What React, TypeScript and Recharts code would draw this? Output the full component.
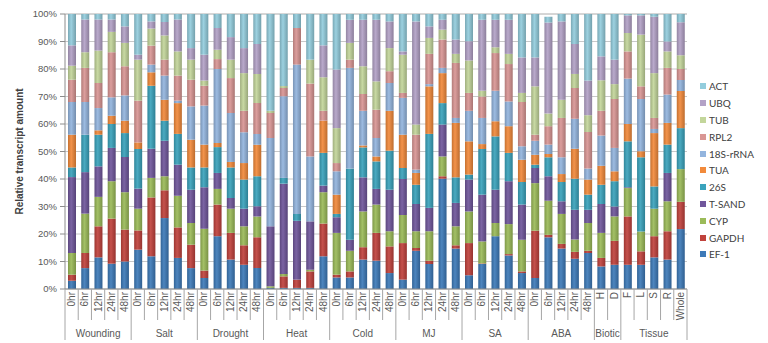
import React from 'react';
import { BarChart, Bar, XAxis, YAxis, CartesianGrid, Legend } from 'recharts';

const categories = [
  '0hr', '6hr', '12hr', '24hr', '48hr',
  '0hr', '6hr', '12hr', '24hr', '48hr',
  '0hr', '6hr', '12hr', '24hr', '48hr',
  '0hr', '6hr', '12hr', '24hr', '48hr',
  '0hr', '6hr', '12hr', '24hr', '48hr',
  '0hr', '6hr', '12hr', '24hr', '48hr',
  '0hr', '6hr', '12hr', '24hr', '48hr',
  '0hr', '6hr', '12hr', '24hr', '48hr',
  'H', 'D',
  'F', 'L', 'S', 'R', 'Whole',
];
const groupNames = ['Wounding', 'Salt', 'Drought', 'Heat', 'Cold', 'MJ', 'SA', 'ABA', 'Biotic', 'Tissue'];
const groupSizes = [5, 5, 5, 5, 5, 5, 5, 5, 2, 5];

const EF1 = [3.0, 7.6, 11.5, 9.2, 10.0, 14.3, 11.9, 25.8, 11.3, 7.6, 4.0, 19.2, 10.7, 8.8, 7.6, 0.4, 0.4, 0.4, 0.4, 11.9, 4.2, 4.2, 10.7, 10.3, 5.8, 3.4, 13.9, 9.1, 40.1, 14.7, 5.0, 9.1, 19.2, 12.2, 5.8, 4.0, 18.8, 14.7, 11.0, 13.1, 8.2, 8.8, 8.8, 8.8, 11.5, 10.7, 21.8];
const GAPDH = [2.2, 5.5, 11.3, 16.4, 11.6, 7.0, 21.4, 10.1, 11.1, 8.5, 2.7, 11.5, 9.7, 7.1, 11.2, 0, 4.2, 3.0, 6.0, 11.9, 1.0, 2.2, 4.5, 10.1, 9.7, 13.3, 1.0, 1.2, 0.9, 1.2, 11.7, 0.2, 0, 0.5, 0.6, 17.2, 0.9, 1.7, 2.5, 0.8, 3.1, 8.7, 17.6, 4.9, 7.7, 10.3, 9.9];
const CYP = [7.9, 14.3, 10.7, 13.6, 13.6, 7.9, 7.1, 5.1, 11.5, 7.9, 15.2, 5.7, 8.8, 6.9, 7.6, 0.6, 0.9, 0, 0.6, 11.4, 15.2, 7.5, 13.0, 10.3, 5.5, 10.2, 6.1, 10.7, 7.2, 6.9, 11.5, 8.0, 4.8, 10.9, 11.5, 17.3, 12.4, 10.9, 4.5, 10.1, 9.1, 8.9, 10.3, 7.2, 10.0, 10.9, 11.9];
const TSAND = [27.6, 15.1, 11.1, 12.1, 12.8, 7.3, 10.6, 12.9, 11.3, 12.1, 15.1, 5.8, 3.9, 6.4, 3.7, 21.8, 32.8, 21.4, 17.6, 2.4, 5.7, 4.0, 12.4, 5.7, 15.1, 13.1, 9.9, 8.5, 11.6, 8.5, 11.6, 17.0, 12.1, 15.6, 12.8, 5.5, 8.9, 4.6, 10.8, 4.8, 10.5, 3.6, 0.3, 0, 0, 10.3, 0];
const S26 = [3.5, 13.6, 11.5, 8.7, 8.7, 14.4, 22.9, 7.3, 11.2, 8.1, 7.2, 9.4, 11.1, 10.6, 10.9, 0, 2.1, 2.5, 0, 11.9, 1.2, 25.9, 10.9, 10.0, 14.2, 4.0, 7.0, 26.9, 7.8, 9.3, 1.8, 16.6, 19.4, 10.3, 8.2, 1.2, 6.9, 7.0, 11.3, 5.5, 7.0, 9.2, 16.7, 27.0, 8.1, 10.3, 14.9];
const TUA = [11.9, 0, 1.6, 3.0, 4.5, 2.4, 4.9, 7.6, 11.2, 10.1, 8.3, 1.5, 2.0, 6.0, 11.5, 0, 0, 0, 0, 11.7, 7.0, 0, 0.7, 1.8, 14.5, 12.1, 4.3, 17.3, 10.9, 19.8, 12.1, 1.8, 5.5, 9.7, 8.1, 3.6, 1.2, 2.9, 10.9, 5.5, 6.9, 3.6, 6.3, 2.2, 19.4, 7.9, 13.5];
const R18S = [11.9, 11.9, 8.1, 6.7, 9.2, 0, 2.8, 8.8, 0.9, 12.1, 14.2, 26.9, 17.8, 11.2, 3.9, 32.1, 29.7, 54.3, 23.6, 0, 8.5, 36.6, 12.6, 6.7, 10.1, 13.4, 1.2, 0.8, 1.9, 1.8, 11.1, 9.5, 11.1, 9.0, 4.9, 5.1, 3.4, 6.1, 10.9, 4.0, 11.0, 8.5, 16.5, 19.0, 1.5, 10.3, 4.0];
const RPL2 = [8.1, 12.4, 9.1, 16.4, 10.6, 15.2, 6.9, 5.8, 9.1, 9.7, 7.2, 3.6, 12.7, 7.8, 11.2, 9.1, 3.0, 13.3, 26.5, 3.6, 3.0, 3.0, 6.1, 10.3, 4.3, 1.8, 12.7, 11.0, 10.3, 20.0, 6.5, 7.8, 13.7, 13.6, 16.1, 2.2, 6.7, 14.3, 11.2, 13.3, 9.0, 17.8, 9.9, 4.6, 4.0, 9.7, 4.0];
const TUB = [5.1, 5.7, 11.8, 7.4, 8.5, 14.9, 6.2, 8.8, 8.8, 7.3, 1.9, 3.4, 6.7, 13.7, 10.6, 0.8, 0.7, 0, 8.7, 12.2, 12.7, 6.1, 10.1, 10.3, 8.4, 13.9, 3.7, 5.8, 3.6, 3.3, 11.8, 2.1, 2.1, 3.7, 3.3, 17.6, 4.6, 6.6, 5.1, 6.1, 11.1, 5.4, 6.7, 18.8, 16.3, 6.0, 5.0];
const UBQ = [7.4, 11.9, 11.3, 4.5, 6.0, 1.8, 2.6, 4.9, 11.6, 4.2, 9.4, 7.9, 8.2, 9.1, 10.9, 0, 0, 0, 0, 11.6, 21.3, 8.4, 16.9, 22.4, 9.7, 1.2, 37.5, 4.2, 3.6, 5.2, 7.0, 25.8, 10.0, 12.4, 12.9, 10.5, 33.1, 28.5, 10.9, 12.6, 8.7, 8.9, 6.4, 7.0, 20.5, 3.6, 12.0];
const ACT = [11.4, 2.0, 2.0, 2.0, 4.5, 14.8, 2.7, 2.9, 2.0, 12.4, 14.8, 5.1, 8.4, 12.4, 10.9, 35.2, 26.2, 5.1, 16.6, 11.4, 20.2, 2.1, 2.1, 2.1, 2.7, 13.6, 2.7, 4.5, 2.1, 9.3, 9.9, 2.1, 2.1, 2.1, 15.8, 15.8, 2.1, 2.7, 10.9, 24.2, 15.4, 16.6, 0.5, 0.5, 1.0, 10.0, 3.0];

const series = [
  { key: 'EF1', name: 'EF-1', values: EF1, color: '#3D7AB8' },
  { key: 'GAPDH', name: 'GAPDH', values: GAPDH, color: '#C0423C' },
  { key: 'CYP', name: 'CYP', values: CYP, color: '#9BBB59' },
  { key: 'TSAND', name: 'T-SAND', values: TSAND, color: '#70569B' },
  { key: 'S26', name: '26S', values: S26, color: '#3AA3BC' },
  { key: 'TUA', name: 'TUA', values: TUA, color: '#F28A3B' },
  { key: 'R18S', name: '18S-rRNA', values: R18S, color: '#93B5DE' },
  { key: 'RPL2', name: 'RPL2', values: RPL2, color: '#D99694' },
  { key: 'TUB', name: 'TUB', values: TUB, color: '#C3D69B' },
  { key: 'UBQ', name: 'UBQ', values: UBQ, color: '#B3A2C7' },
  { key: 'ACT', name: 'ACT', values: ACT, color: '#93CDDD' },
];

const data = categories.map((c, i) => {
  const row: Record<string, any> = { label: c, idx: i };
  series.forEach((s) => { row[s.key] = s.values[i]; });
  return row;
});

const W = 768;
const H = 343;
const Y_AXIS_W = 65;
const X_AXIS_H = 54;
const MARGIN = { top: 14, right: 81, bottom: 0, left: 0 };
const PLOT_LEFT = MARGIN.left + Y_AXIS_W;
const PLOT_RIGHT = W - MARGIN.right;
const AXIS_Y = H - MARGIN.bottom - X_AXIS_H;
const BAND = (PLOT_RIGHT - PLOT_LEFT) / categories.length;

const groupStarts: number[] = [];
groupSizes.reduce((acc, n) => { groupStarts.push(acc); return acc + n; }, 0);

const FONT = '"Liberation Sans", Arial, sans-serif';
const AXIS_COLOR = '#8C8C8C';

function shade(hex: string, f: number) {
  const n = parseInt(hex.slice(1), 16);
  let r = (n >> 16) & 255, g = (n >> 8) & 255, b = n & 255;
  if (f < 0) { r = r * (1 + f); g = g * (1 + f); b = b * (1 + f); }
  else { r = r + (255 - r) * f; g = g + (255 - g) * f; b = b + (255 - b) * f; }
  const h = (v: number) => Math.round(v).toString(16).padStart(2, '0');
  return '#' + h(r) + h(g) + h(b);
}

function XTick(props: any) {
  const { x, payload } = props;
  const i: number = props.index ?? payload.index;
  const left = x - BAND / 2;
  const g = groupStarts.indexOf(i);
  const isStart = g >= 0;
  const els: any[] = [];
  els.push(<line key="l" x1={left} x2={left} y1={AXIS_Y} y2={isStart ? 340 : 320} stroke="#A6A6A6" strokeWidth={1} />);
  if (i === categories.length - 1) {
    els.push(<line key="r" x1={left + BAND} x2={left + BAND} y1={AXIS_Y} y2={340} stroke="#A6A6A6" strokeWidth={1} />);
  }
  els.push(
    <text key="t" transform={`translate(${x + 3.5},${AXIS_Y + 3}) rotate(-90)`} textAnchor="end"
      fontSize={10} fill="#595959" fontFamily={FONT}>{payload.value}</text>
  );
  if (isStart) {
    els.push(
      <text key="g" x={left + (groupSizes[g] * BAND) / 2} y={337} textAnchor="middle"
        fontSize={10} fill="#595959" fontFamily={FONT}>{groupNames[g]}</text>
    );
  }
  return <g>{els}</g>;
}

function LegendContent() {
  const items = [...series].reverse();
  return (
    <div style={{ fontFamily: 'Lato, "Open Sans", sans-serif', fontSize: 10, color: '#404040' }}>
      {items.map((s) => (
        <div key={s.key} style={{ display: 'flex', alignItems: 'center', height: 16.8 }}>
          <span style={{ display: 'inline-block', width: 6, height: 6, background: s.color, marginRight: 3 }} />
          <span>{s.name}</span>
        </div>
      ))}
    </div>
  );
}

export default function App() {
  return (
    <div style={{ position: 'absolute', left: 0, top: 0, width: W, height: H, background: '#fff' }}>
      <BarChart width={W} height={H} data={data} margin={MARGIN} barSize={8} barCategoryGap={0}>
        <defs>
          {series.map((s) => (
            <linearGradient key={s.key} id={`g-${s.key}`} x1="0" y1="0" x2="1" y2="0">
              <stop offset="0%" stopColor={shade(s.color, -0.18)} />
              <stop offset="40%" stopColor={shade(s.color, 0.08)} />
              <stop offset="100%" stopColor={shade(s.color, -0.22)} />
            </linearGradient>
          ))}
        </defs>
        <CartesianGrid vertical={false} stroke="#C8C8C8" />
        <XAxis dataKey="label" interval={0} height={X_AXIS_H} tickLine={false}
          axisLine={{ stroke: AXIS_COLOR }} tick={<XTick />} />
        <YAxis width={Y_AXIS_W} domain={[0, 100]} ticks={[0, 10, 20, 30, 40, 50, 60, 70, 80, 90, 100]}
          tickFormatter={(v: number) => `${v}%`} axisLine={{ stroke: AXIS_COLOR }}
          tickLine={{ stroke: AXIS_COLOR }} tickSize={5} tickMargin={3}
          tick={{ fontSize: 9.5, fill: '#595959', fontFamily: FONT }}
          label={{
            content: () => (
              <text transform={`translate(23,${(MARGIN.top + AXIS_Y) / 2}) rotate(-90)`} textAnchor="middle"
                fontSize={10} fontWeight="bold" fill="#404040" fontFamily={FONT}>Relative transcript amount</text>
            ),
          }} />
        <Legend layout="vertical" align="center" verticalAlign="middle" content={<LegendContent />}
          wrapperStyle={{ left: 700, top: 78, width: 68 }} />
        {series.map((s) => (
          <Bar key={s.key} dataKey={s.key} name={s.name} stackId="a" fill={`url(#g-${s.key})`}
            isAnimationActive={false} />
        ))}
      </BarChart>
    </div>
  );
}
